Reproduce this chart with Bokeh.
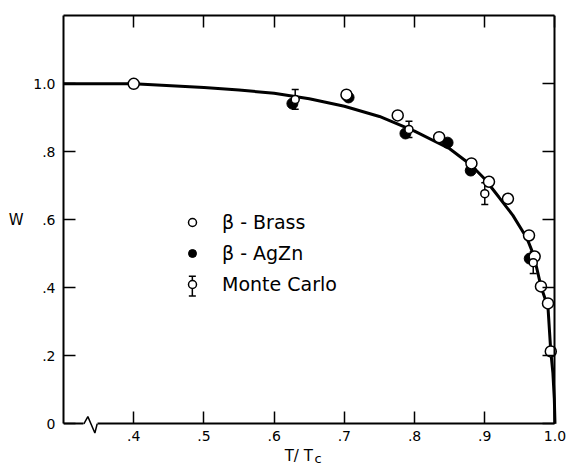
from bokeh.plotting import figure
from bokeh.models import (Range1d, LinearAxis, FixedTicker, Legend, LegendItem, Whisker,
                          ColumnDataSource, PolyAnnotation, TeeHead, Label)
from bokeh.embed import file_html
from bokeh.resources import INLINE

# ---- theory curve ----
curve_t = [0.30, 0.40, 0.50, 0.55, 0.60, 0.65, 0.70, 0.75, 0.80, 0.85, 0.88, 0.90,
           0.92, 0.94, 0.96, 0.97, 0.98, 0.99, 0.994, 0.997, 0.999, 1.0]
curve_w = [1.000, 1.000, 0.989, 0.982, 0.972, 0.956, 0.934, 0.904, 0.861, 0.809, 0.762,
           0.720, 0.667, 0.613, 0.546, 0.494, 0.404, 0.343, 0.213, 0.150, 0.075, 0.0]

# ---- beta-brass (open circles) ----
brass_t = [0.400, 0.703, 0.776, 0.835, 0.881, 0.906, 0.933, 0.963, 0.971, 0.980, 0.990, 0.994]
brass_w = [1.000, 0.968, 0.907, 0.843, 0.766, 0.712, 0.662, 0.554, 0.492, 0.404, 0.354, 0.213]

# ---- beta-AgZn (filled circles) ----
agzn_t = [0.626, 0.706, 0.787, 0.847, 0.880, 0.964]
agzn_w = [0.942, 0.960, 0.854, 0.827, 0.745, 0.486]

# ---- Monte Carlo (open circles with error bars) ----
mc_t = [0.630, 0.792, 0.900, 0.969]
mc_w = [0.954, 0.866, 0.677, 0.474]
mc_err = [0.029, 0.024, 0.032, 0.032]

x_ticks = [0.4, 0.5, 0.6, 0.7, 0.8, 0.9, 1.0]
x_tick_labels = [".4", ".5", ".6", ".7", ".8", ".9", "1.0"]
y_ticks = [0.0, 0.2, 0.4, 0.6, 0.8, 1.0]
y_tick_labels = ["0", ".2", ".4", ".6", ".8", "1.0"]

legend_labels = ["\u03b2 - Brass", "\u03b2 - AgZn", "Monte Carlo"]
y_title = "W"
x_title = "T/ T"
x_title_sub = "c"

FONT = "DejaVu Sans"

# layout / decoration positions (not data)
X0, X1, XMAX = 0.3, 1.0, 1.0235   # frame runs a little past T=1 so the "1.0" label shows
Y0, Y1 = -0.1315, 1.201           # frame reaches below W=0 so the T axis text can sit there
BRK_A, BRK_B = 0.329, 0.348       # axis-break gap on the T axis
BRK_X = [0.329, 0.3347, 0.3447, 0.348, 0.3447, 0.3347]
BRK_Y = [0.0, 0.021, -0.027, 0.0, -0.027, 0.021]
W_POS = 0.6
TITLE_X, TITLE_Y = 0.6150, -0.0935
SUB_X, SUB_Y = 0.6575, -0.1020
LEG_BAR_T, LEG_BAR_W, LEG_BAR_H = 0.4835, 0.405, 0.029

p = figure(width=571, height=468, output_backend="svg", toolbar_location=None,
           x_range=Range1d(X0, XMAX), y_range=Range1d(Y0, Y1),
           min_border_left=63, min_border_right=0, min_border_top=15, min_border_bottom=0,
           x_axis_location=None, y_axis_location=None)
p.grid.visible = False
p.outline_line_color = None
p.background_fill_color = "white"
p.border_fill_color = "white"


def make_axis(ticks, labels, show_labels, **kw):
    ax = LinearAxis(ticker=FixedTicker(ticks=ticks), **kw)
    ax.major_label_overrides = {t: l for t, l in zip(ticks, labels)}
    ax.major_tick_in = 12
    ax.major_tick_out = 0
    ax.minor_tick_line_color = None
    ax.axis_line_width = 2
    ax.major_tick_line_width = 1.5
    ax.axis_line_color = "black"
    ax.major_tick_line_color = "black"
    ax.major_label_text_font = FONT
    if show_labels:
        ax.major_label_text_font_size = "14px"
        ax.major_label_text_color = "black"
    else:
        ax.major_label_text_font_size = "1px"
        ax.major_label_text_color = None
        ax.major_label_standoff = 0
    return ax


# bottom T axis, drawn at W = 0 with a gap for the break symbol
xb = make_axis(x_ticks, x_tick_labels, True, fixed_location=0.0, bounds=(BRK_B, X1))
xb.major_label_standoff = 7
p.add_layout(xb, "below")
xb0 = make_axis([], [], False, fixed_location=0.0, bounds=(X0, BRK_A))
p.add_layout(xb0, "below")

yl = make_axis(y_ticks, y_tick_labels, True, bounds=(0.0, Y1))
yl.major_label_standoff = 8
p.add_layout(yl, "left")
# "W" title as a label at W = .6, outside the tick labels
yw = LinearAxis(ticker=FixedTicker(ticks=[W_POS]), major_label_overrides={W_POS: y_title},
                axis_line_color=None, major_tick_line_color=None, minor_tick_line_color=None,
                major_tick_in=0, major_tick_out=0, major_label_standoff=7,
                major_label_text_font=FONT, major_label_text_font_size="15px",
                major_label_text_color="black")
p.add_layout(yw, "left")

p.add_layout(make_axis(x_ticks, x_tick_labels, False, bounds=(X0, X1)), "above")
p.add_layout(make_axis(y_ticks, y_tick_labels, False, fixed_location=X1, bounds=(0.0, Y1)),
             "right")

# axis break zig-zag
p.add_layout(PolyAnnotation(xs=BRK_X, ys=BRK_Y, fill_alpha=0, line_color="black",
                            line_alpha=1.0, line_width=1.5, level="overlay"))

# T/Tc title
p.add_layout(Label(x=TITLE_X, y=TITLE_Y, text=x_title, text_font=FONT,
                   text_font_size="15px", text_color="black", text_baseline="alphabetic"))
p.add_layout(Label(x=SUB_X, y=SUB_Y, text=x_title_sub, text_font=FONT,
                   text_font_size="13px", text_color="black", text_baseline="alphabetic"))

# theory curve
p.line(curve_t, curve_w, line_color="black", line_width=3)

r_agzn = p.scatter(agzn_t, agzn_w, marker="circle", size=11, fill_color="black",
                   line_color="black")
r_brass = p.scatter(brass_t, brass_w, marker="circle", size=11, fill_color="white",
                    line_color="black", line_width=1.5)

mc_src = ColumnDataSource(dict(t=mc_t, w=mc_w,
                               lo=[w - e for w, e in zip(mc_w, mc_err)],
                               hi=[w + e for w, e in zip(mc_w, mc_err)]))
p.add_layout(Whisker(base="t", lower="lo", upper="hi", source=mc_src, dimension="height",
                     line_color="black", line_width=1.5,
                     upper_head=TeeHead(size=7, line_width=1.5, line_color="black"),
                     lower_head=TeeHead(size=7, line_width=1.5, line_color="black")))
r_mc = p.scatter("t", "w", source=mc_src, marker="circle", size=8, fill_color="white",
                 line_color="black", line_width=1.5)

# error-bar part of the Monte Carlo legend symbol
leg_src = ColumnDataSource(dict(t=[LEG_BAR_T], lo=[LEG_BAR_W - LEG_BAR_H],
                                hi=[LEG_BAR_W + LEG_BAR_H]))
p.add_layout(Whisker(base="t", lower="lo", upper="hi", source=leg_src, dimension="height",
                     line_color="black", line_width=1.5,
                     upper_head=TeeHead(size=7, line_width=1.5, line_color="black"),
                     lower_head=TeeHead(size=7, line_width=1.5, line_color="black")))

legend = Legend(items=[LegendItem(label=legend_labels[0], renderers=[r_brass]),
                       LegendItem(label=legend_labels[1], renderers=[r_agzn]),
                       LegendItem(label=legend_labels[2], renderers=[r_mc])],
                location=(119, 173), padding=0, margin=0, spacing=9,
                glyph_width=20, glyph_height=20, label_standoff=20,
                label_text_font=FONT, label_text_font_size="19px",
                label_text_color="black",
                border_line_color=None, background_fill_alpha=0)
p.add_layout(legend, "center")

open("out.html", "w").write(file_html(p, INLINE))
